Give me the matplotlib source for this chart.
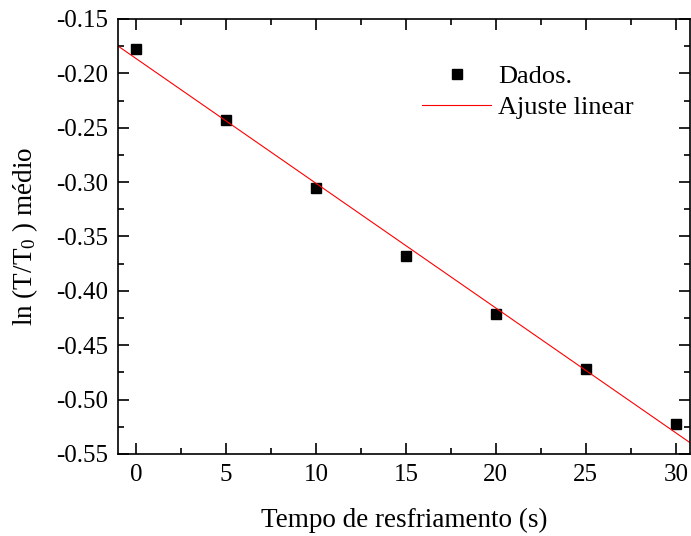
import numpy as np
import matplotlib
matplotlib.use('Agg')
from matplotlib import pyplot as plt
from matplotlib.ticker import MultipleLocator

plt.rcParams['font.family'] = ['Liberation Serif', 'DejaVu Serif']
plt.rcParams['mathtext.fontset'] = 'custom'
plt.rcParams['mathtext.rm'] = 'Liberation Serif'
plt.rcParams['mathtext.it'] = 'Liberation Serif:italic'

# dados
tempo = [0, 5, 10, 15, 20, 25, 30]
ln_medio = [-0.178, -0.243, -0.305, -0.368, -0.421, -0.472, -0.522]

# ajuste linear
coef = np.polyfit(tempo, ln_medio, 1)
xfit = np.linspace(-1, 31, 50)
yfit = np.polyval(coef, xfit)

fig = plt.figure(figsize=(6.91, 5.36), dpi=100)
ax = fig.add_axes([0.1708, 0.153, 0.828, 0.8116])

ax.plot(tempo, ln_medio, 's', color='black', markersize=7.5, label='Dados.')
ax.plot(xfit, yfit, '-', color='red', linewidth=0.8, label='Ajuste linear')

ax.set_xlim(-1, 30.8)
ax.set_ylim(-0.55, -0.15)
ax.xaxis.set_major_locator(MultipleLocator(5))
ax.xaxis.set_minor_locator(MultipleLocator(2.5))
ax.yaxis.set_major_locator(MultipleLocator(0.05))
ax.yaxis.set_minor_locator(MultipleLocator(0.025))
ax.yaxis.set_major_formatter(plt.FormatStrFormatter('%.2f'))

ax.tick_params(which='both', direction='in', top=True, right=True, labelsize=18, width=1.2)
ax.tick_params(which='major', length=8, pad=7)
ax.tick_params(which='minor', length=4)
for s in ax.spines.values():
    s.set_linewidth(1.2)

ax.set_xlabel('Tempo de resfriamento (s)', fontsize=19.5, labelpad=16)
ax.set_ylabel(r'ln (T/T$_\mathrm{0}$ ) médio', fontsize=19.5, labelpad=12)

ax.legend(loc='upper right', bbox_to_anchor=(0.943, 0.95), frameon=False,
          fontsize=19, handlelength=2.6, handletextpad=0.27, labelspacing=0.3)

fig.savefig('out.png', dpi=100)
